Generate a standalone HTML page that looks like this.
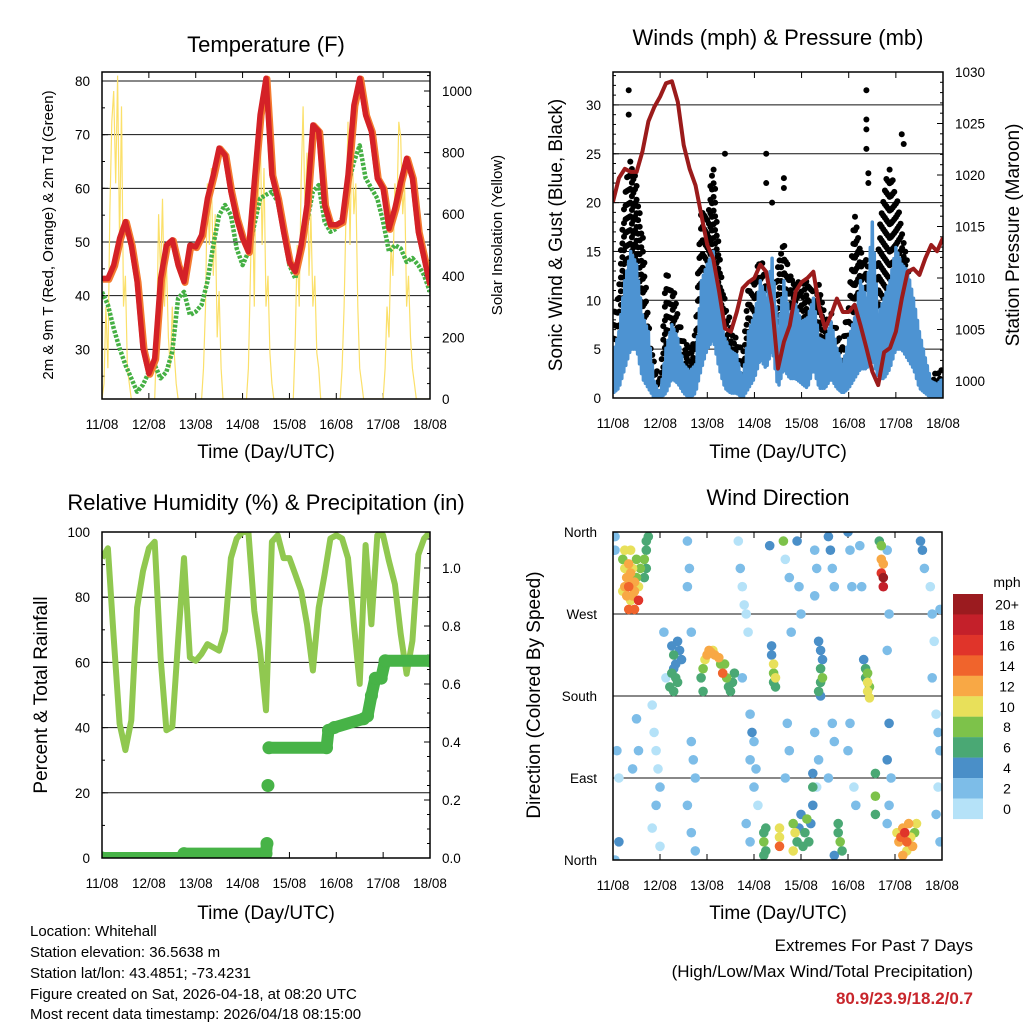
<!DOCTYPE html>
<html><head><meta charset="utf-8"><style>
html,body{margin:0;padding:0;background:#fff;}
svg{display:block;font-family:"Liberation Sans",Arial,sans-serif;}
</style></head><body>
<svg id="fig" width="1024" height="1024" viewBox="0 0 1024 1024" xmlns="http://www.w3.org/2000/svg">
<defs>
<clipPath id="cT"><rect x="102" y="72" width="328" height="327"/></clipPath>
<clipPath id="cW"><rect x="613" y="72" width="330" height="326"/></clipPath>
<clipPath id="cR"><rect x="102" y="532" width="328" height="326"/></clipPath>
<clipPath id="cD"><rect x="613" y="532" width="329" height="328"/></clipPath>
</defs>
<text x="266" y="52" font-size="22" text-anchor="middle">Temperature (F)</text>
<text x="778" y="45" font-size="22" text-anchor="middle">Winds (mph) &amp; Pressure (mb)</text>
<text x="266" y="510" font-size="22" text-anchor="middle">Relative Humidity (%) &amp; Precipitation (in)</text>
<text x="778" y="505" font-size="22" text-anchor="middle">Wind Direction</text>
<text x="266" y="458" font-size="19" text-anchor="middle">Time (Day/UTC)</text>
<text x="778" y="458" font-size="19" text-anchor="middle">Time (Day/UTC)</text>
<text x="266" y="919" font-size="19" text-anchor="middle">Time (Day/UTC)</text>
<text x="778" y="919" font-size="19" text-anchor="middle">Time (Day/UTC)</text>
<text transform="translate(53,235) rotate(-90)" font-size="15" text-anchor="middle">2m &amp; 9m T (Red, Orange) &amp; 2m Td (Green)</text>
<text transform="translate(502,235) rotate(-90)" font-size="15" text-anchor="middle">Solar Insolation (Yellow)</text>
<text transform="translate(562,235) rotate(-90)" font-size="19" text-anchor="middle">Sonic Wind &amp; Gust (Blue, Black)</text>
<text transform="translate(1019,235) rotate(-90)" font-size="19" text-anchor="middle">Station Pressure (Maroon)</text>
<text transform="translate(47,695) rotate(-90)" font-size="19" text-anchor="middle">Percent &amp; Total Rainfall</text>
<text transform="translate(540,695) rotate(-90)" font-size="19" text-anchor="middle">Direction (Colored By Speed)</text>
<g font-size="15">
<text x="30" y="936">Location: Whitehall</text>
<text x="30" y="957">Station elevation: 36.5638 m</text>
<text x="30" y="978">Station lat/lon: 43.4851; -73.4231</text>
<text x="30" y="999">Figure created on Sat, 2026-04-18, at 08:20 UTC</text>
<text x="30" y="1019">Most recent data timestamp: 2026/04/18 08:15:00</text>
</g>
<g font-size="17" text-anchor="end">
<text x="973" y="951">Extremes For Past 7 Days</text>
<text x="973" y="977">(High/Low/Max Wind/Total Precipitation)</text>
<text x="973" y="1004" fill="#c8262c" font-weight="bold">80.9/23.9/18.2/0.7</text>
</g>
<g id="layer"></g>
</svg>
<script>
// ---------- data ----------
var dayLabels = ["11/08","12/08","13/08","14/08","15/08","16/08","17/08","18/08"];
var temp2m = [43.2,43.2,45.7,50.7,53.8,49.4,42.6,30.2,25.5,28.3,43.2,49.4,50.4,45.7,42.6,49.4,49.1,51.3,58.1,62.5,67.5,66.2,59.4,54.4,50.7,48.2,61.2,73.7,80.5,62.5,58.1,51.9,46.3,44.5,49.4,56.9,71.8,70.6,56.9,53.2,53.2,53.8,62.5,75.5,80.5,73.7,70.6,61.9,60.0,52.5,56.3,61.2,65.6,61.9,51.9,47.0,42.0];
var dew2m = [40.7,38.3,33.9,30.2,27.1,24.6,22.1,23.4,25.8,27.1,24.6,25.8,29.6,39.5,40.7,36.4,37.0,38.3,42.6,49.4,55.0,56.9,55.0,48.8,45.7,48.2,53.2,58.1,58.8,59.4,57.5,51.9,45.7,43.2,48.2,53.8,59.4,60.6,53.8,51.9,52.5,54.4,60.6,64.9,68.0,61.9,60.0,58.1,53.8,48.2,49.4,48.8,46.3,47.0,45.7,43.8,40.7];
var solarDay0 = [0,50,300,100,600,900,1000,700,1050,500,950,300,400,100,50,0,0,0,0,0,0,0,0,0];
var solarDay1 = [0,0,0,0,200,600,400,650,300,450,200,100,300,150,50,0,0,0,0,0,0,0,0,0];
var solarDay2 = [0,0,0,0,100,300,700,500,750,400,600,200,350,100,0,0,0,0,0,0,0,0,0,0];
var solarDay3 = [0,0,0,100,400,700,300,850,600,900,500,750,300,400,150,50,0,0,0,0,0,0,0,0];
var solarDay4 = [0,0,0,200,500,300,700,950,600,800,400,600,300,400,150,100,0,0,0,0,0,0,0,0];
var solarDay5 = [0,0,0,100,300,600,900,500,850,600,700,300,100,50,0,0,0,0,0,0,0,0,0,0];
var solarDay6 = [0,100,300,200,500,400,700,600,900,850,600,700,300,400,200,100,50,0,0,0,0,0,0,0,0];
var windHi = [4.4,6.8,12,15,13.7,8.5,6.8,1.7,0.3,5.1,7.5,6.1,3.4,2.7,3.4,12,13.7,15,10.2,6.1,4.8,4.4,1.7,6.8,8.5,12,10.2,14.3,6.8,12,8.5,9.6,7.8,8.2,10.2,6.1,5.8,7.8,5.1,3.4,6.1,8.2,12,10.2,18,8.5,10.2,12,15.4,13.7,13,10.2,6.8,4.1,1.7,1.4,2];
var windLo = [0.5,1,3,5,5,2,1,0,0,0.5,2,1.5,0.5,0,0.5,3,5,6,3,1,0.5,0.5,0,1,2,4,3,5,1,3,2,2,1.5,1,3,1,1,2,1,0.5,1,2,3,3,4,2,2,3,5,5,4,3,1,0.5,0,0,0];
var gust = [8,12,22,25,22,17,8,4,2,13,12,9,6,5,8,20,19,25,15,10,8,6,5,12,12,15,12,10,14,16,13,12,12,12,11,12,8,9,7,6,10,19,15,15,9,16,22,24,21,18,14,8,6,3,2,3,3];
var gustOutT = [8,8,57,78,78,81,87,87,129,129,129,129,130,130,147,148];
var gustOutV = [31.5,29,25,25,22,20,22.5,21.5,31.5,28.5,27.5,25.5,23,22,27,26];
var pressure = [1017.4,1019.7,1020.6,1020.3,1020.3,1022.3,1025.2,1026.6,1027.6,1028.9,1029.1,1027.1,1022.9,1020.6,1019.0,1016.1,1013.2,1011.9,1008.7,1005.1,1004.8,1006.7,1009.0,1009.6,1010.0,1011.3,1010.6,1007.4,1001.2,1003.8,1005.4,1008.7,1009.6,1010.0,1010.6,1007.1,1005.1,1006.4,1008.0,1006.7,1006.7,1007.4,1005.4,1003.2,1000.9,999.6,1002.8,1003.2,1004.8,1008.0,1010.6,1010.9,1010.3,1011.9,1013.2,1012.6,1013.9];
var rh = [92,95,67.6,41.2,33.1,42.2,76.8,88,95,97,61.5,39.2,40.2,66.6,92,61.5,60.5,62.6,65.6,64.6,63.6,69.7,92,98,100,100,75.8,63.6,45.3,97,99,92,92,87,82,71.7,57.5,76.8,87,98,99,98,92,71.7,53.4,96,71.7,99,99,91,84,68.7,56.5,66.6,93,98,100];
var precipT = [0,40,42,84,84.5,85,85.5,115,116,119,134,136,138,140,143,145,168];
var precipV = [0,0,0.015,0.015,0.05,0.25,0.38,0.38,0.44,0.45,0.48,0.49,0.56,0.62,0.62,0.68,0.68];
var dirT = [5,6,6,7,7,8,8,9,9,10,10,11,11,12,12,13,13,8,6,14,5,10,9,11,
17,17,16,17,18,16,
30,31,31,32,32,33,30,34,35,33,29,31,
45,46,47,48,49,50,51,52,54,55,56,57,58,59,60,61,46,62,
81,82,82,83,82,83,81,
105,106,106,107,106,105,107,106,
128,129,130,130,131,130,131,129,
137,137,138,137,138,138,136,
77,77,78,77,78,85,85,85,92,93,94,95,96,97,98,99,92,100,115,115,116,117,113,
145,146,147,148,149,150,151,152,153,154,155,150,148,
134,134,134,102,102,102,101,
1,1,2,3,3,1,20,21,22,23,24,22,20,24,26,27,38,39,38,40,40,41,42,38,40,42,64,65,66,67,68,69,66,70,71,72,70,73,72,74,68,70,80,87,88,90,91,89,90,88,94,95,96,103,104,103,103,105,104,110,111,112,113,112,113,110,120,121,122,121,120,123,124,126,127,140,141,140,141,140,142,141,140,157,158,159,162,163,164,163,165,166,167,166,165,167,167,12,13,10];
var dirD = [330,320,300,310,290,325,300,315,285,305,320,295,275,310,330,300,285,275,340,320,295,290,340,305,
350,340,330,320,355,310,
235,225,210,200,215,195,205,230,220,240,190,185,
200,210,220,225,230,228,230,225,222,215,205,215,200,190,185,195,185,205,
225,215,205,200,195,190,235,
240,230,210,200,195,185,220,180,
220,210,205,195,190,185,178,200,
345,330,325,315,310,300,350,
30,20,10,5,35,15,25,35,40,30,20,35,50,15,30,45,10,20,40,30,20,10,5,
30,20,25,35,30,20,40,25,15,30,40,10,5,
95,70,50,95,80,60,40,
355,340,120,90,20,0,170,140,120,100,80,60,35,15,250,200,350,320,300,250,130,110,90,60,30,10,350,320,300,280,270,250,200,160,140,130,110,100,80,60,40,20,345,350,330,310,250,150,120,90,350,300,270,340,320,290,140,110,80,355,340,320,300,150,130,90,360,340,300,150,120,80,60,345,300,340,270,230,150,110,90,60,40,350,340,320,300,270,240,200,160,140,120,80,50,20,275,155,120,100];
var dirS = [9,11,12,13,12,12,14,12,10,13,11,12,14,9,8,10,16,15,10,9,10,12,11,13,
6,7,8,7,6,6,
5,6,5,6,4,6,6,5,4,4,6,6,
6,8,10,12,12,12,11,12,12,9,15,8,8,7,6,6,6,6,
4,10,8,10,6,6,4,
4,4,6,8,6,6,5,4,
4,6,8,10,8,10,10,6,
8,12,12,16,20,18,6,
6,8,6,6,6,14,10,10,8,10,6,4,4,6,6,8,10,6,6,6,8,6,4,
10,12,14,12,16,14,12,10,12,8,10,10,12,
6,8,6,4,6,4,4,
2,2,3,0,4,2,1,0,1,0,2,2,1,1,2,1,3,2,3,2,2,3,2,2,3,3,1,2,0,1,0,1,2,3,4,3,2,3,2,1,2,2,4,8,1,2,2,3,2,2,4,3,3,3,2,3,2,3,1,4,4,3,2,2,3,2,4,3,2,2,3,1,2,2,2,3,2,2,4,4,3,2,3,4,4,2,1,2,1,2,1,2,3,1,2,3,2,3,2,3];
var speedBins = ["0","2","4","6","8","10","12","14","16","18","20+"];
var binColors = ["#b5e2f8","#7dbde8","#4a8fc8","#4aa874","#7dc24a","#e8e05a","#f8a845","#f0642c","#e0342a","#c4202a","#9b1b1f"];

// ---------- scales ----------
var NS = "http://www.w3.org/2000/svg";
var layer = document.getElementById("layer");
function mk(tag, attrs, parent) {
  var e = document.createElementNS(NS, tag);
  for (var k in attrs) e.setAttribute(k, attrs[k]);
  (parent || layer).appendChild(e);
  return e;
}
function xL(h){ return 102 + h*(430-102)/168; }
function xR(h){ return 613 + h*(943-613)/168; }
function xD(h){ return 613 + h*(942-613)/168; }
function yT(v){ return 81 + (80-v)*5.367; }
function yS(v){ return 399 - v*0.308; }
function yW(v){ return 398 - v*9.77; }
function yP(v){ return 381 - (v-1000)*10.3; }
function yR(v){ return 858 - v*3.26; }
function yPr(v){ return 858 - v*290; }
function yD(d){ return 860 - d*328/360; }
function tAt(i){ return i*3; }
function pts(arr, xf, yf){ return arr.map(function(v,i){ return xf(tAt(i)).toFixed(1)+","+yf(v).toFixed(1); }).join(" "); }
function interp(arr, h){ var i=Math.floor(h/3), f=(h-i*3)/3; if(i>=arr.length-1) return arr[arr.length-1]; return arr[i]*(1-f)+arr[i+1]*f; }

// ---------- axes helper ----------
function frame(x0,y0,x1,y1,name,xf){
  var g = mk("g",{});
  
  
  for (var d=0; d<=7; d++){
    var x = xf(d*24);
    var t = mk("line",{x1:x,y1:y1,x2:x,y2:y1-6,stroke:"#000","stroke-width":1},g);
    
    
    mk("line",{x1:x,y1:y0,x2:x,y2:y0+6,stroke:"#000","stroke-width":1},g);
    var lb = mk("text",{x:x,y:y1+30,"font-size":13.5,"text-anchor":"middle"},g);
    lb.textContent = dayLabels[d];
    
    
  }
  return g;
}
function border(x0,y0,x1,y1){
  var r = mk("rect",{x:x0,y:y0,width:x1-x0,height:y1-y0,fill:"none",stroke:"#000","stroke-width":1.5});
  
  
}
function yTicks(g, side, xEdge, vals, yf, fmt, minorStep, vmin, vmax, grid, x0, x1){
  var dir = side==="left" ? 1 : -1;
  for (var v=vmin; v<=vmax+1e-9; v+=minorStep){
    var y = yf(v);
    mk("line",{x1:xEdge,y1:y,x2:xEdge+dir*3,y2:y,stroke:"#000","stroke-width":1},g);
  }
  vals.forEach(function(v){
    var y = yf(v);
    mk("line",{x1:xEdge,y1:y,x2:xEdge+dir*6,y2:y,stroke:"#000","stroke-width":1},g);
    if (grid) {
      var gl = mk("line",{x1:x0,y1:y,x2:x1,y2:y,stroke:"#111","stroke-width":1},g);
      
      
    }
    var lb = mk("text",{x: side==="left"? xEdge-12 : xEdge+12, y:y+5,"font-size":13.5,"text-anchor": side==="left"?"end":"start"},g);
    lb.textContent = fmt(v);
    
    
  });
}

// ---------- Panel 1: temperature ----------
var g1 = frame(102,72,430,399,"temperature",xL);
yTicks(g1,"left",102,[30,40,50,60,70,80],yT,function(v){return String(v);},5,25,80,true,102,430);
yTicks(g1,"right",430,[0,200,400,600,800,1000],yS,function(v){return String(v);},50,0,1050,false);
var cg1 = mk("g",{"clip-path":"url(#cT)"});
var solar = solarDay0.concat(solarDay1,solarDay2,solarDay3,solarDay4,solarDay5,solarDay6.slice(0,25));
var sp = solar.map(function(v,i){ return xL(i).toFixed(1)+","+yS(v).toFixed(1); }).join(" ");
var solarLine = mk("polyline",{points:sp,fill:"none",stroke:"#fbe06a","stroke-width":1.2},cg1);


var dewLine = mk("polyline",{points:pts(dew2m,xL,yT),fill:"none",stroke:"#45b044","stroke-width":4.5,"stroke-dasharray":"3 1.5","stroke-linejoin":"round"},cg1);


var t9 = mk("polyline",{points:pts(temp2m,xL,yT),fill:"none",stroke:"#f47b30","stroke-width":7,"stroke-linejoin":"round",transform:"translate(1,0.8)"},cg1);


var t2 = mk("polyline",{points:pts(temp2m,xL,yT),fill:"none",stroke:"#d42127","stroke-width":5.5,"stroke-linejoin":"round"},cg1);


border(102,72,430,399);

// ---------- Panel 2: winds ----------
var g2 = frame(613,72,943,398,"winds",xR);
yTicks(g2,"left",613,[0,5,10,15,20,25,30],yW,function(v){return String(v);},1,0,33,true,613,943);
yTicks(g2,"right",943,[1000,1005,1010,1015,1020,1025,1030],yP,function(v){return String(v);},1,999,1030,false);
var cg2 = mk("g",{"clip-path":"url(#cW)"});
for (var h=0, n=0; h<=168; h+=0.8, n++){
  var lo = interp(windHi,h)+0.3, hi = interp(gust,h);
  for (var v=lo+(n%2)*0.7; v<=hi; v+=1.4){
    var c = mk("circle",{cx:xR(h).toFixed(1),cy:yW(v).toFixed(1),r:3,fill:"#000"},cg2);
    
    
  }
}
gustOutT.forEach(function(t,i){
  var c = mk("circle",{cx:xR(t),cy:yW(gustOutV[i]),r:3,fill:"#000"},cg2);
  
  
});
var zz = [];
for (var h2=0, k=0; h2<=168; h2+=0.5, k++){
  zz.push(xR(h2).toFixed(1)+","+yW(k%2? interp(windLo,h2) : interp(windHi,h2)).toFixed(1));
}
var windLine = mk("polyline",{points:zz.join(" "),fill:"none",stroke:"#4d93d2","stroke-width":3.5,"stroke-linejoin":"round"},cg2);


var pLine = mk("polyline",{points:pts(pressure,xR,yP),fill:"none",stroke:"#9b1b1b","stroke-width":4,"stroke-linejoin":"round"},cg2);


border(613,72,943,398);

// ---------- Panel 3: humidity ----------
var g3 = frame(102,532,430,858,"humidity",xL);
yTicks(g3,"left",102,[0,20,40,60,80,100],yR,function(v){return String(v);},10,0,100,true,102,430);
yTicks(g3,"right",430,[0,0.2,0.4,0.6,0.8,1.0],yPr,function(v){return v.toFixed(1);},0.05,0,1.1,false);
var cg3 = mk("g",{"clip-path":"url(#cR)"});
var rhLine = mk("polyline",{points:pts(rh,xL,yR),fill:"none",stroke:"#90c850","stroke-width":6,"stroke-linejoin":"round"},cg3);


for (var i=0;i<precipT.length;i++){
  if (i>0 && Math.abs(precipV[i]-precipV[i-1])<0.08){
    var seg = mk("line",{x1:xL(precipT[i-1]),y1:yPr(precipV[i-1]),x2:xL(precipT[i]),y2:yPr(precipV[i]),stroke:"#47b347","stroke-width":12,"stroke-linecap":"round"},cg3);
    
    
  }
  var pc = mk("circle",{cx:xL(precipT[i]),cy:yPr(precipV[i]),r:6.5,fill:"#47b347"},cg3);
  
  
}
border(102,532,430,858);

// ---------- Panel 4: wind direction ----------
var g4 = frame(613,532,942,860,"direction",xD);
var dirLabels = ["North","East","South","West","North"];
[0,90,180,270,360].forEach(function(d,i){
  var y = yD(d);
  mk("line",{x1:613,y1:y,x2:619,y2:y,stroke:"#000"},g4);
  if (d>0 && d<360){
    var gl = mk("line",{x1:613,y1:y,x2:942,y2:y,stroke:"#111","stroke-width":1},g4);
    
    
  }
  var lb = mk("text",{x:597,y:y+5,"font-size":13.5,"text-anchor":"end"},g4);
  lb.textContent = dirLabels[i];
  
  
});
var cg4 = mk("g",{"clip-path":"url(#cD)"});
var order = dirS.map(function(s,i){return i;}).sort(function(a,b){return dirS[a]-dirS[b];});
order.forEach(function(i){
  var b = Math.min(10, Math.floor(dirS[i]/2));
  var c = mk("circle",{cx:xD(dirT[i]).toFixed(1),cy:yD(dirD[i]).toFixed(1),r:4.8,fill:binColors[b]},cg4);
  
  
});
border(613,532,942,860);

// colorbar
var cb = mk("g",{});


var mphT = mk("text",{x:1007,y:587,"font-size":14,"text-anchor":"middle"},cb);
mphT.textContent = "mph";
for (var j=0;j<11;j++){
  var bi = 10-j, y0 = 594 + j*20.45;
  var r = mk("rect",{x:953,y:y0,width:30,height:20.6,fill:binColors[bi]},cb);
  
  
  var t = mk("text",{x:1007,y:y0+15.5,"font-size":14,"text-anchor":"middle"},cb);
  t.textContent = speedBins[bi];
  
  
}
</script>
</body></html>
